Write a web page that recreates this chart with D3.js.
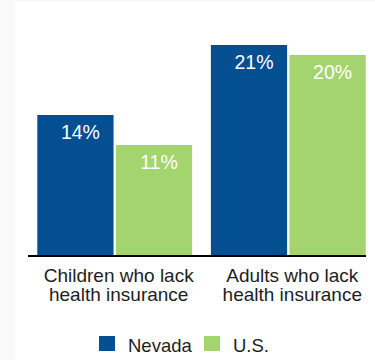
<!DOCTYPE html>
<html lang="en">
<head>
	<meta charset="UTF-8">
	<script src="https://cdn.jsdelivr.net/npm/d3@7"></script>
	<title>Health insurance</title>
	<style>
		body { margin: 0; background: #fff; }
		text { font-family: "Liberation Sans", Arial, sans-serif; }
	</style>
</head>
<body>
	<div id="container"></div>
</body>
<script>
	const categories = [['Children who lack', 'health insurance'], ['Adults who lack', 'health insurance']];
	const series = ['Nevada', 'U.S.'];
	const nevada = [14, 21];
	const us = [11, 20];
	const colors = ['#034f92', '#a4d46e'];

	const width = 375,
		height = 360,
		baseY = 255;

	const svg = d3.select('#container')
		.append('svg')
		.attr('width', width)
		.attr('height', height);

	// faint panel edge
	svg.append('rect')
		.attr('width', width).attr('height', height)
		.attr('fill', '#f9f9f9');
	svg.append('rect')
		.attr('x', 15).attr('y', 2)
		.attr('width', width - 15).attr('height', height - 2)
		.attr('fill', '#fff');

	const x0 = d3.scaleBand()
		.domain(d3.range(categories.length))
		.range([37.3, 365.7])
		.paddingInner(0.108);

	const x1 = d3.scaleBand()
		.domain(series)
		.range([0, x0.bandwidth()])
		.paddingInner(0.03);

	const y = d3.scaleLinear()
		.domain([0, 25])
		.range([baseY, 5]);

	const rows = categories.map((c, i) => ({ i: i, values: [nevada[i], us[i]] }));

	const groups = svg.selectAll('g.group')
		.data(rows)
		.enter()
		.append('g')
		.attr('class', 'group')
		.attr('transform', d => `translate(${x0(d.i)},0)`);

	groups.selectAll('rect')
		.data(d => d.values.map((v, k) => ({ s: series[k], v: v, k: k })))
		.enter()
		.append('rect')
		.attr('x', d => x1(d.s))
		.attr('y', d => y(d.v))
		.attr('width', x1.bandwidth())
		.attr('height', d => baseY - y(d.v))
		.attr('fill', d => colors[d.k]);

	groups.selectAll('text.value')
		.data(d => d.values.map((v, k) => ({ s: series[k], v: v })))
		.enter()
		.append('text')
		.attr('class', 'value')
		.attr('x', d => x1(d.s) + x1.bandwidth() / 2 + 5)
		.attr('y', d => y(d.v) + 24)
		.attr('text-anchor', 'middle')
		.attr('fill', '#fff')
		.style('font-size', '19.5px')
		.text(d => d.v + '%');

	// baseline
	svg.append('line')
		.attr('x1', 28).attr('x2', 366)
		.attr('y1', baseY + 1).attr('y2', baseY + 1)
		.attr('stroke', '#000')
		.attr('stroke-width', 2);

	// category labels, one text per line
	groups.selectAll('text.cat')
		.data(d => categories[d.i])
		.enter()
		.append('text')
		.attr('class', 'cat')
		.attr('text-anchor', 'middle')
		.attr('fill', '#1e1e1e')
		.style('font-size', '19px')
		.attr('x', x0.bandwidth() / 2 + 4)
		.attr('y', (d, i) => 281.5 + i * 19.5)
		.text(d => d);

	// legend
	const legendX = [99, 204];
	const legend = svg.selectAll('g.legend')
		.data(series)
		.enter()
		.append('g')
		.attr('class', 'legend')
		.attr('transform', (d, i) => `translate(${legendX[i]}, 336)`);

	legend.append('rect')
		.attr('width', 16)
		.attr('height', 15)
		.attr('fill', (d, i) => colors[i]);

	legend.append('text')
		.attr('x', 29)
		.attr('y', 15.5)
		.attr('fill', '#1e1e1e')
		.style('font-size', '18.5px')
		.text(d => d);
</script>
</html>
